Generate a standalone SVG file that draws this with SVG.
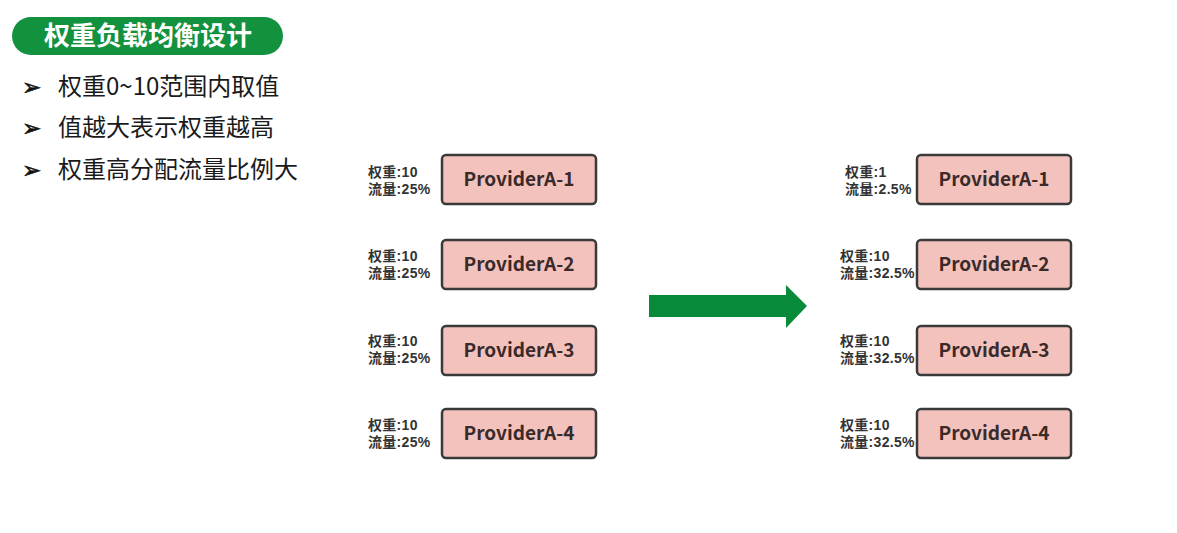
<svg xmlns="http://www.w3.org/2000/svg" width="1177" height="533" viewBox="0 0 1177 533">
  <style>
    .cjk { font-family: "Noto Sans CJK SC", "Noto Sans", sans-serif; }
    .title { font-size: 26px; font-weight: 700; fill: #ffffff; }
    .bullet { font-size: 24px; fill: #1a1a1a; }
    .mark { font-family: "DejaVu Sans", sans-serif; font-size: 23px; fill: #111111; stroke: #111111; stroke-width: 0.6; }
    .box { fill: #f4c2bc; stroke: #3a3a3a; stroke-width: 2.5; }
    .name { font-size: 19px; font-weight: 700; fill: #3a2a2a; text-anchor: middle; }
    .lbl { font-family: "Liberation Sans", "Noto Sans CJK SC", sans-serif; font-size: 14px; font-weight: 700; fill: #333333; letter-spacing: 0.3px; }
  </style>

  <rect width="1177" height="533" fill="#ffffff"/>

  <!-- heading -->
  <g id="title">
    <rect x="12" y="17" width="271" height="38" rx="19" fill="#12913f"/>
    <text class="cjk title" x="148" y="45" text-anchor="middle">权重负载均衡设计</text>
  </g>

  <!-- bullet list -->
  <g id="bullets">
    <text class="mark" x="22" y="95">➢</text>
    <text class="cjk bullet" x="58" y="95">权重0~10范围内取值</text>
    <text class="mark" x="22" y="136">➢</text>
    <text class="cjk bullet" x="58" y="136">值越大表示权重越高</text>
    <text class="mark" x="22" y="178">➢</text>
    <text class="cjk bullet" x="58" y="178">权重高分配流量比例大</text>
  </g>

  <!-- providers before -->
  <g id="left-a1">
    <text class="lbl" x="368" y="177">权重:10</text>
    <text class="lbl" x="368" y="194">流量:25%</text>
    <rect class="box" x="442" y="155" width="154" height="49" rx="4"/>
    <text class="cjk name" x="519" y="186">ProviderA-1</text>
  </g>
  <g id="left-a2">
    <text class="lbl" x="368" y="261">权重:10</text>
    <text class="lbl" x="368" y="278">流量:25%</text>
    <rect class="box" x="442" y="240" width="154" height="49" rx="4"/>
    <text class="cjk name" x="519" y="271">ProviderA-2</text>
  </g>
  <g id="left-a3">
    <text class="lbl" x="368" y="346">权重:10</text>
    <text class="lbl" x="368" y="363">流量:25%</text>
    <rect class="box" x="442" y="326" width="154" height="49" rx="4"/>
    <text class="cjk name" x="519" y="357">ProviderA-3</text>
  </g>
  <g id="left-a4">
    <text class="lbl" x="368" y="430">权重:10</text>
    <text class="lbl" x="368" y="447">流量:25%</text>
    <rect class="box" x="442" y="409" width="154" height="49" rx="4"/>
    <text class="cjk name" x="519" y="440">ProviderA-4</text>
  </g>

  <!-- transition arrow -->
  <g id="connectors">
    <polygon points="649,295 786,295 786,285 807,306 786,328 786,317 649,317" fill="#078a3a"/>
  </g>

  <!-- providers after -->
  <g id="right-a1">
    <text class="lbl" x="845" y="177">权重:1</text>
    <text class="lbl" x="845" y="194">流量:2.5%</text>
    <rect class="box" x="917" y="155" width="154" height="49" rx="4"/>
    <text class="cjk name" x="994" y="186">ProviderA-1</text>
  </g>
  <g id="right-a2">
    <text class="lbl" x="840" y="261">权重:10</text>
    <text class="lbl" x="840" y="278">流量:32.5%</text>
    <rect class="box" x="917" y="240" width="154" height="49" rx="4"/>
    <text class="cjk name" x="994" y="271">ProviderA-2</text>
  </g>
  <g id="right-a3">
    <text class="lbl" x="840" y="346">权重:10</text>
    <text class="lbl" x="840" y="363">流量:32.5%</text>
    <rect class="box" x="917" y="326" width="154" height="49" rx="4"/>
    <text class="cjk name" x="994" y="357">ProviderA-3</text>
  </g>
  <g id="right-a4">
    <text class="lbl" x="840" y="430">权重:10</text>
    <text class="lbl" x="840" y="447">流量:32.5%</text>
    <rect class="box" x="917" y="409" width="154" height="49" rx="4"/>
    <text class="cjk name" x="994" y="440">ProviderA-4</text>
  </g>
</svg>
